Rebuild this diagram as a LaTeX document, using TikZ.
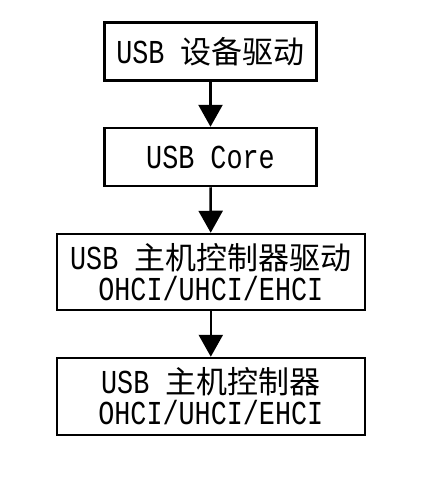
\documentclass[tikz,border=0pt]{standalone}
\usepackage{fontspec}
\setmainfont{Liberation Mono}[Scale=1.08,FakeStretch=0.8]
\newfontfamily\cjk{Noto Sans CJK SC}
\usetikzlibrary{arrows.meta}
\newcommand{\zh}[1]{{\cjk #1}}

\begin{document}
\begin{tikzpicture}[x=1pt,y=-1pt,
  boite/.style={draw,line width=2.5pt,inner sep=0pt,align=center,
    font=\fontsize{31}{31}\selectfont},
  fleche/.style={line width=2.5pt,-{Triangle[width=24pt,length=22pt]}}]
\useasboundingbox (0,0) rectangle (422,479);
\node [boite,minimum width=212pt,minimum height=58pt] (pilote) at (210.5,51.5) {USB \zh{设备驱动}};
\node [boite,minimum width=212pt,minimum height=58pt] (core) at (210.5,157) {USB Core};
\node [boite,minimum width=308pt,minimum height=76pt] (hcd) at (210.8,272) {USB \zh{主机控制器驱动}\\OHCI/UHCI/EHCI};
\node [boite,minimum width=308pt,minimum height=77pt] (hc) at (210.8,396.5) {USB \zh{主机控制器}\\OHCI/UHCI/EHCI};
\draw [fleche] (pilote) -- (core);
\draw [fleche] (core) -- (hcd);
\draw [fleche] (hcd) -- (hc);
\end{tikzpicture}
\end{document}
